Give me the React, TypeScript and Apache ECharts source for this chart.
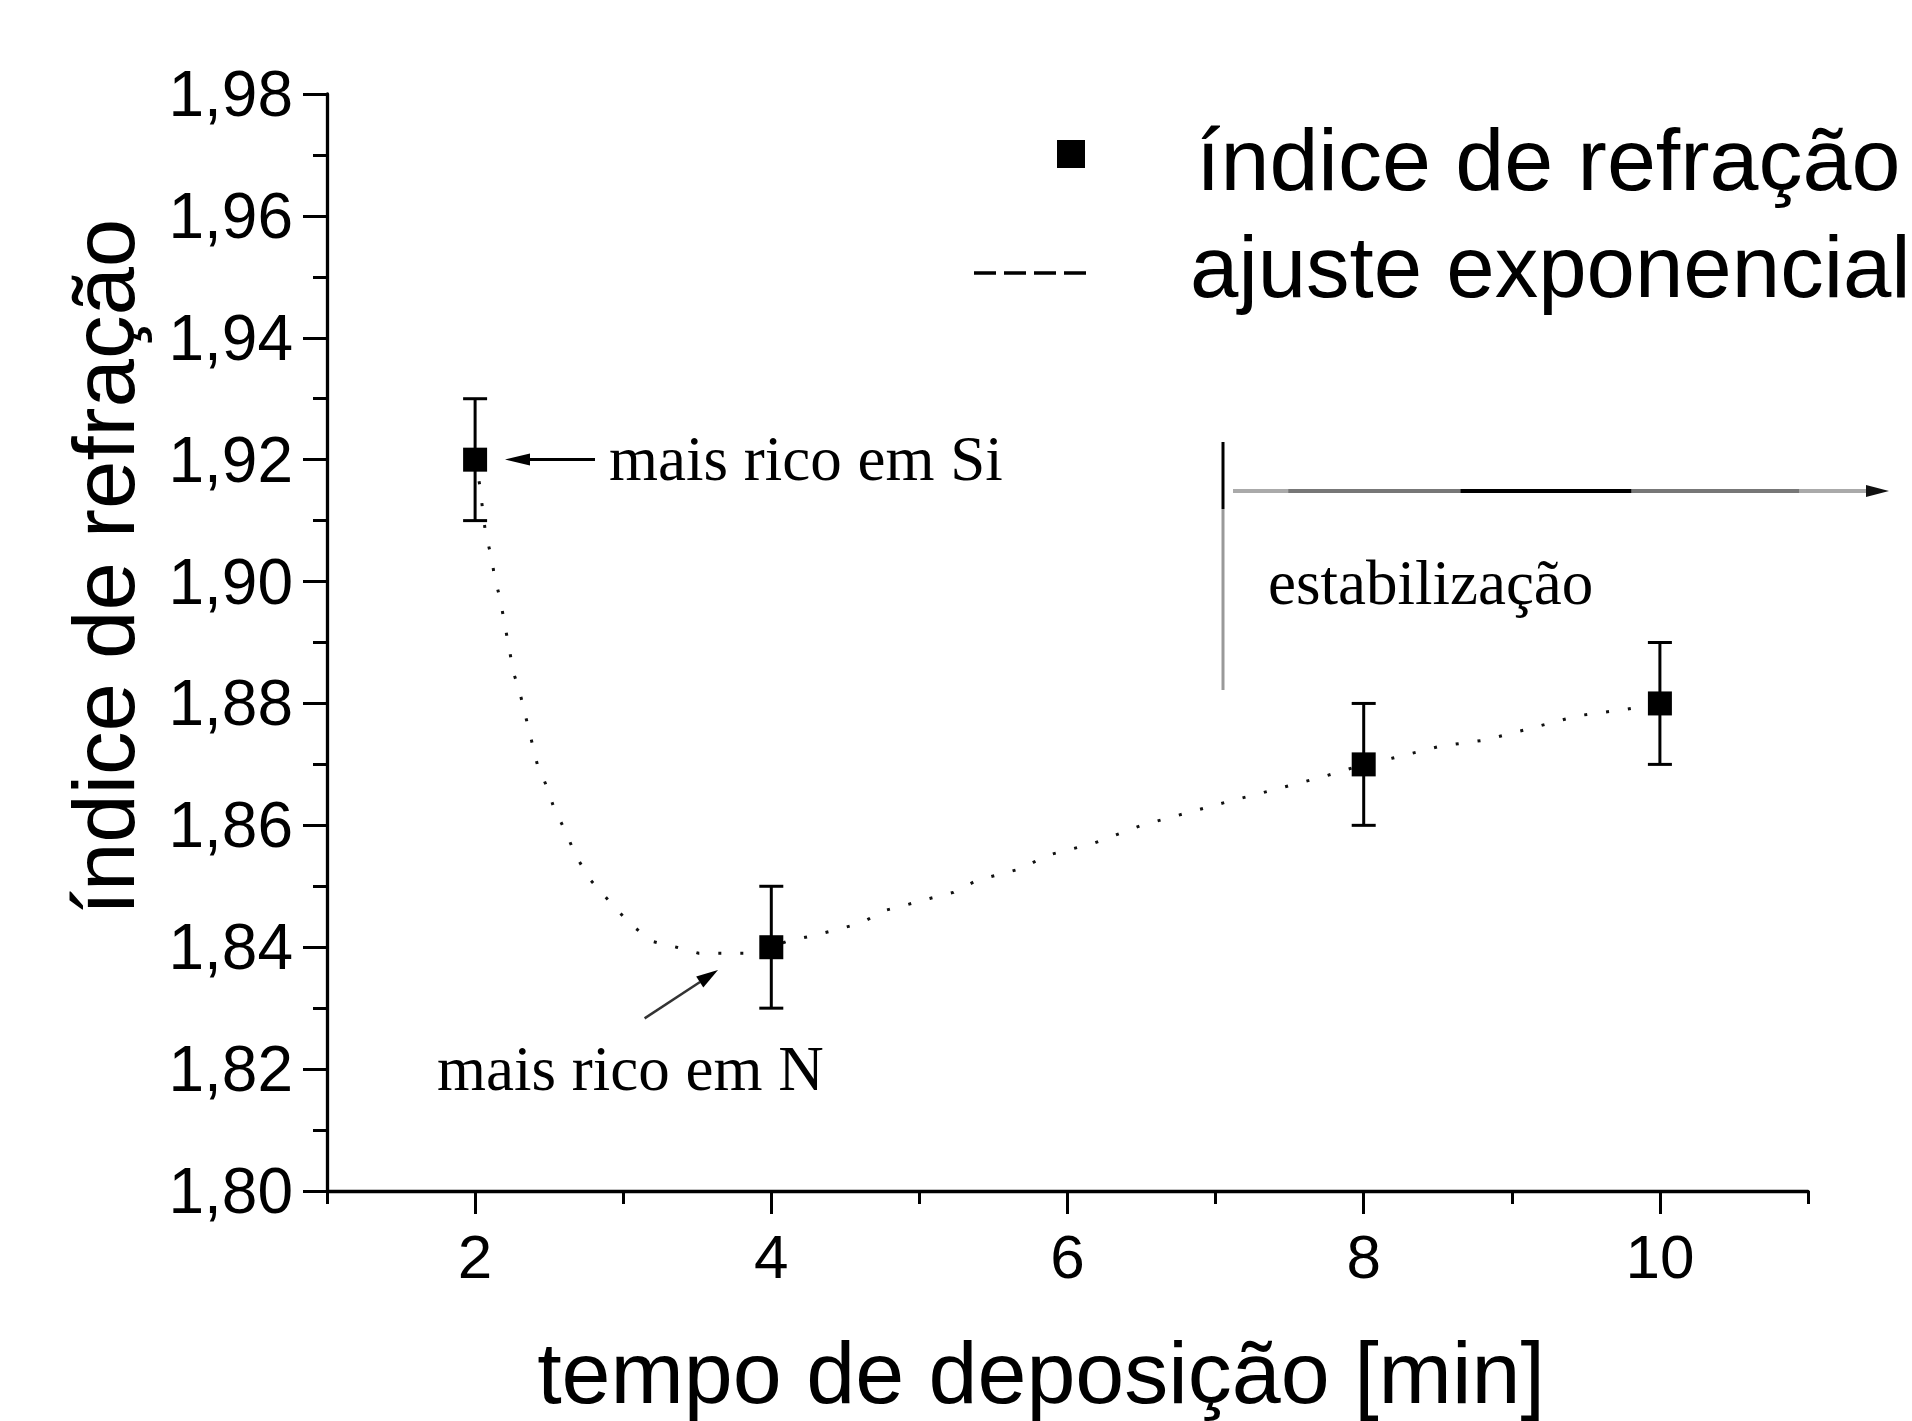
import React, { useEffect, useRef } from 'react';
import * as echarts from 'echarts';

// ---------- data ----------
const xTimes = [2, 4, 8, 10];
const refrIndex = [1.92, 1.84, 1.87, 1.88];
const refrErr = [0.01, 0.01, 0.01, 0.01];

const fitX = [
  2.0, 2.03, 2.05, 2.07, 2.11, 2.13, 2.17, 2.2, 2.23, 2.26, 2.3, 2.34, 2.38, 2.42, 2.49, 2.53,
  2.61, 2.68, 2.78, 2.89, 3.04, 3.19, 3.36, 3.51, 3.66, 3.83, 4.0, 4.11, 4.3, 4.46, 4.61, 4.76,
  4.92, 5.07, 5.23, 5.39, 5.55, 5.7, 5.85, 6.01, 6.17, 6.5, 6.8, 7.1, 7.42, 7.73, 8.0, 8.19,
  8.52, 8.82, 9.14, 9.45, 9.76, 10.0,
];
const fitY = [
  1.92, 1.916, 1.912, 1.908, 1.904, 1.901, 1.897, 1.893, 1.889, 1.885, 1.882, 1.878, 1.874, 1.87,
  1.866, 1.863, 1.859, 1.855, 1.851, 1.848, 1.844, 1.841, 1.84, 1.839, 1.839, 1.839, 1.84, 1.841,
  1.842, 1.843, 1.844, 1.846, 1.847, 1.848, 1.849, 1.851, 1.852, 1.853, 1.855, 1.856, 1.857, 1.86,
  1.862, 1.864, 1.866, 1.868, 1.87, 1.871, 1.873, 1.874, 1.876, 1.878, 1.879, 1.88,
];

const xMajorTicks = [2, 4, 6, 8, 10];
const xMinorTicks = [1, 3, 5, 7, 9, 11];
const yTickValues = [1.8, 1.82, 1.84, 1.86, 1.88, 1.9, 1.92, 1.94, 1.96, 1.98];
const yTickLabels = ['1,80', '1,82', '1,84', '1,86', '1,88', '1,90', '1,92', '1,94', '1,96', '1,98'];

const xTitle = 'tempo de deposição [min]';
const yTitle = 'índice de refração';
const legendPoints = 'índice de refração';
const legendFit = 'ajuste exponencial';
const noteSi = 'mais rico em Si';
const noteN = 'mais rico em N';
const noteStab = 'estabilização';

const SANS = '"Liberation Sans", Arial, sans-serif';
const SERIF = '"Liberation Serif", "Times New Roman", serif';

export default function App() {
  const ref = useRef<HTMLDivElement>(null);

  useEffect(() => {
    if (!ref.current) return;
    const chart = echarts.init(ref.current, undefined, { renderer: 'svg' });

    const hGrad = new echarts.graphic.LinearGradient(
      1233, 0, 1866, 0,
      [
        { offset: 0, color: '#aaa' },
        { offset: 0.087, color: '#aaa' },
        { offset: 0.088, color: '#777' },
        { offset: 0.359, color: '#777' },
        { offset: 0.36, color: '#000' },
        { offset: 0.628, color: '#000' },
        { offset: 0.63, color: '#777' },
        { offset: 0.894, color: '#777' },
        { offset: 0.895, color: '#aaa' },
        { offset: 1, color: '#aaa' },
      ],
      true
    );

    const option: any = {
      animation: false,
      backgroundColor: '#fff',
      grid: { left: 327, right: 104, top: 94, bottom: 230, containLabel: false },
      xAxis: [
        {
          type: 'value',
          min: 1,
          max: 11,
          interval: 1,
          axisLine: { show: true, onZero: false, lineStyle: { color: '#000', width: 3.3 } },
          axisTick: { show: true, customValues: xMajorTicks, length: 23, lineStyle: { color: '#000', width: 3 } },
          axisLabel: {
            customValues: xMajorTicks,
            margin: 34,
            fontSize: 62,
            fontFamily: SANS,
            color: '#000',
          },
          splitLine: { show: false },
        },
        {
          type: 'value',
          min: 1,
          max: 11,
          interval: 1,
          position: 'bottom',
          axisLine: { show: false, onZero: false },
          axisTick: { show: true, customValues: xMinorTicks, length: 13, lineStyle: { color: '#000', width: 3 } },
          axisLabel: { show: false },
          splitLine: { show: false },
        },
      ],
      yAxis: {
        type: 'value',
        min: 1.8,
        max: 1.98,
        interval: 0.02,
        axisLine: { show: true, onZero: false, lineStyle: { color: '#000', width: 3.3 } },
        axisTick: { show: true, length: 24, lineStyle: { color: '#000', width: 3 } },
        minorTick: { show: true, splitNumber: 2, length: 14, lineStyle: { color: '#000', width: 3 } },
        axisLabel: {
          margin: 34,
          fontSize: 64,
          fontFamily: SANS,
          color: '#000',
          formatter: (v: number) => {
            const i = yTickValues.findIndex((t) => Math.abs(t - v) < 1e-6);
            return i >= 0 ? yTickLabels[i] : '';
          },
        },
        splitLine: { show: false },
      },
      series: [
        {
          type: 'line',
          data: fitX.map((x, i) => [x, fitY[i]]),
          showSymbol: false,
          symbol: 'none',
          silent: true,
          lineStyle: { color: '#111', width: 3, type: [3, 19] },
          z: 1,
        },
        {
          type: 'custom',
          data: xTimes.map((x, i) => [x, refrIndex[i], refrErr[i]]),
          silent: true,
          z: 2,
          renderItem: (params: any, api: any) => {
            const x = api.value(0);
            const y = api.value(1);
            const e = api.value(2);
            const top = api.coord([x, y + e]);
            const bot = api.coord([x, y - e]);
            const half = 12;
            const st = { stroke: '#000', lineWidth: 3 };
            return {
              type: 'group',
              children: [
                { type: 'line', shape: { x1: top[0], y1: top[1], x2: bot[0], y2: bot[1] }, style: st },
                { type: 'line', shape: { x1: top[0] - half, y1: top[1], x2: top[0] + half, y2: top[1] }, style: st },
                { type: 'line', shape: { x1: bot[0] - half, y1: bot[1], x2: bot[0] + half, y2: bot[1] }, style: st },
              ],
            };
          },
        },
        {
          type: 'scatter',
          data: xTimes.map((x, i) => [x, refrIndex[i]]),
          symbol: 'rect',
          symbolSize: 24,
          itemStyle: { color: '#000', opacity: 1 },
          silent: true,
          z: 3,
        },
      ],
      graphic: [
        // axis titles
        {
          type: 'text',
          x: 1041,
          y: 1372,
          style: { text: xTitle, font: `88px ${SANS}`, fill: '#000', align: 'center', verticalAlign: 'middle' },
        },
        {
          type: 'text',
          x: 103,
          y: 567,
          rotation: Math.PI / 2,
          style: { text: yTitle, font: `87px ${SANS}`, fill: '#000', align: 'center', verticalAlign: 'middle' },
        },
        // legend
        { type: 'rect', shape: { x: 1057, y: 140, width: 28, height: 28 }, style: { fill: '#000' } },
        {
          type: 'line',
          shape: { x1: 974, y1: 273, x2: 1086, y2: 273 },
          style: { stroke: '#000', lineWidth: 3.5, lineDash: [22, 8] },
        },
        {
          type: 'text',
          x: 1196,
          y: 159,
          style: { text: legendPoints, font: `88px ${SANS}`, fill: '#000', align: 'left', verticalAlign: 'middle' },
        },
        {
          type: 'text',
          x: 1190,
          y: 266,
          style: { text: legendFit, font: `87px ${SANS}`, fill: '#000', align: 'left', verticalAlign: 'middle' },
        },
        // annotation: Si
        { type: 'line', shape: { x1: 527, y1: 459.5, x2: 595, y2: 459.5 }, style: { stroke: '#000', lineWidth: 3 } },
        { type: 'polygon', shape: { points: [[505, 459.5], [530, 453.5], [530, 465.5]] }, style: { fill: '#000' } },
        {
          type: 'text',
          x: 609,
          y: 459,
          style: { text: noteSi, font: `63px ${SERIF}`, fill: '#000', align: 'left', verticalAlign: 'middle' },
        },
        // annotation: N
        { type: 'line', shape: { x1: 644.6, y1: 1018.4, x2: 700, y2: 982 }, style: { stroke: '#333', lineWidth: 2.5 } },
        { type: 'polygon', shape: { points: [[718, 970], [703.3, 987.4], [696.2, 976.6]] }, style: { fill: '#000' } },
        {
          type: 'text',
          x: 437,
          y: 1069,
          style: { text: noteN, font: `63px ${SERIF}`, fill: '#000', align: 'left', verticalAlign: 'middle' },
        },
        // annotation: estabilização
        { type: 'line', shape: { x1: 1223, y1: 442, x2: 1223, y2: 509 }, style: { stroke: '#000', lineWidth: 3 } },
        { type: 'line', shape: { x1: 1223, y1: 509, x2: 1223, y2: 690 }, style: { stroke: '#999', lineWidth: 3 } },
        { type: 'line', shape: { x1: 1233, y1: 491, x2: 1868, y2: 491 }, style: { stroke: hGrad, lineWidth: 4 } },
        { type: 'polygon', shape: { points: [[1889, 491], [1866, 485], [1866, 497]] }, style: { fill: '#111' } },
        {
          type: 'text',
          x: 1268,
          y: 583,
          style: { text: noteStab, font: `63px ${SERIF}`, fill: '#000', align: 'left', verticalAlign: 'middle' },
        },
      ],
    };

    chart.setOption(option);
    return () => chart.dispose();
  }, []);

  return (
    <div
      ref={ref}
      style={{ position: 'fixed', left: 0, top: 0, width: 1912, height: 1421, background: '#fff' }}
    />
  );
}
